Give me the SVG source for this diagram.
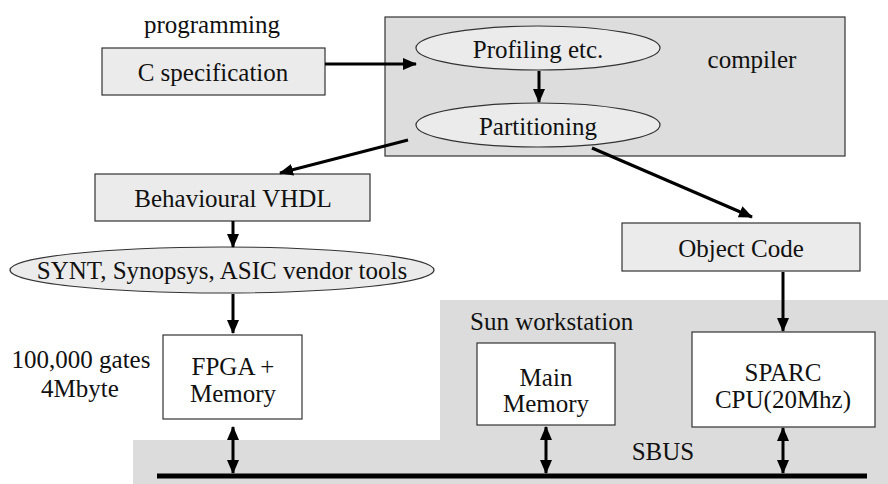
<svg xmlns="http://www.w3.org/2000/svg" width="888" height="484" viewBox="0 0 888 484">
<defs>
<marker id="ah" markerUnits="userSpaceOnUse" markerWidth="14" markerHeight="14" refX="13" refY="7" orient="auto-start-reverse" viewBox="0 0 14 14">
<path d="M0,1 L14,7 L0,13 z" fill="#000"/>
</marker>
<style>
text{font-size:25px;fill:#111;}
.c{text-anchor:middle;}
.box{stroke:#333;stroke-width:1.2;}
.lg{fill:#ebebeb;}
.wh{fill:#fff;}
.cn line{stroke:#000;stroke-width:3;fill:none;}
</style>
</defs>
<rect width="888" height="484" fill="#fff"/>
<g font-family="'Liberation Serif', 'DejaVu Serif', serif">
<g id="sun-workstation">
<path d="M440,300 H888 V484 H133 V440 H440 Z" fill="#dcdcdc"/>
<text x="470" y="330">Sun workstation</text>
<text class="c" x="663" y="460">SBUS</text>
</g>
<g id="compiler">
<rect class="box" x="385" y="17" width="460" height="139" fill="#dddddd"/>
<text class="c" x="752" y="68">compiler</text>
</g>
<g id="programming-label"><text class="c" x="212" y="33">programming</text></g>
<g id="c-spec">
<rect class="box lg" x="102" y="48" width="223" height="47"/>
<text class="c" x="213" y="81">C specification</text>
</g>
<g id="profiling">
<ellipse class="box lg" cx="538" cy="48" rx="122" ry="22"/>
<text class="c" x="538" y="58">Profiling etc.</text>
</g>
<g id="partitioning">
<ellipse class="box lg" cx="538" cy="125" rx="122" ry="22"/>
<text class="c" x="538" y="135">Partitioning</text>
</g>
<g id="behavioural-vhdl">
<rect class="box lg" x="95" y="174" width="275" height="47"/>
<text class="c" x="233" y="207">Behavioural VHDL</text>
</g>
<g id="synt">
<ellipse class="box lg" cx="222" cy="270" rx="212" ry="23"/>
<text class="c" x="222" y="279">SYNT, Synopsys, ASIC vendor tools</text>
</g>
<g id="object-code">
<rect class="box lg" x="622" y="223" width="238" height="48"/>
<text class="c" x="741" y="257">Object Code</text>
</g>
<g id="gates-label">
<text class="c" x="81" y="368">100,000 gates</text>
<text class="c" x="80" y="397">4Mbyte</text>
</g>
<g id="fpga">
<rect class="box wh" x="163" y="335" width="139" height="84"/>
<text class="c" x="233" y="375">FPGA +</text>
<text class="c" x="233" y="402">Memory</text>
</g>
<g id="main-memory">
<rect class="box wh" x="477" y="343" width="138" height="82"/>
<text class="c" x="546" y="386">Main</text>
<text class="c" x="546" y="412">Memory</text>
</g>
<g id="sparc">
<rect class="box wh" x="692" y="332" width="183" height="95"/>
<text class="c" x="783" y="381">SPARC</text>
<text class="c" x="783" y="408">CPU(20Mhz)</text>
</g>
</g>
<g id="sbus">
<line x1="157" y1="476" x2="867" y2="476" stroke="#000" stroke-width="5"/>
</g>
<g class="cn" id="connectors">
<line x1="325" y1="64" x2="416" y2="64" marker-end="url(#ah)"/>
<line x1="539" y1="71" x2="539" y2="102" marker-end="url(#ah)"/>
<line x1="408" y1="140" x2="280" y2="173" marker-end="url(#ah)"/>
<line x1="592" y1="148" x2="752" y2="217" marker-end="url(#ah)"/>
<line x1="233" y1="221" x2="233" y2="247" marker-end="url(#ah)"/>
<line x1="233" y1="294" x2="233" y2="333" marker-end="url(#ah)"/>
<line x1="783" y1="272" x2="783" y2="331" marker-end="url(#ah)"/>
<line x1="233" y1="427" x2="233" y2="473" marker-start="url(#ah)" marker-end="url(#ah)"/>
<line x1="546" y1="427" x2="546" y2="473" marker-start="url(#ah)" marker-end="url(#ah)"/>
<line x1="783" y1="428" x2="783" y2="473" marker-start="url(#ah)" marker-end="url(#ah)"/>
</g>
</svg>
